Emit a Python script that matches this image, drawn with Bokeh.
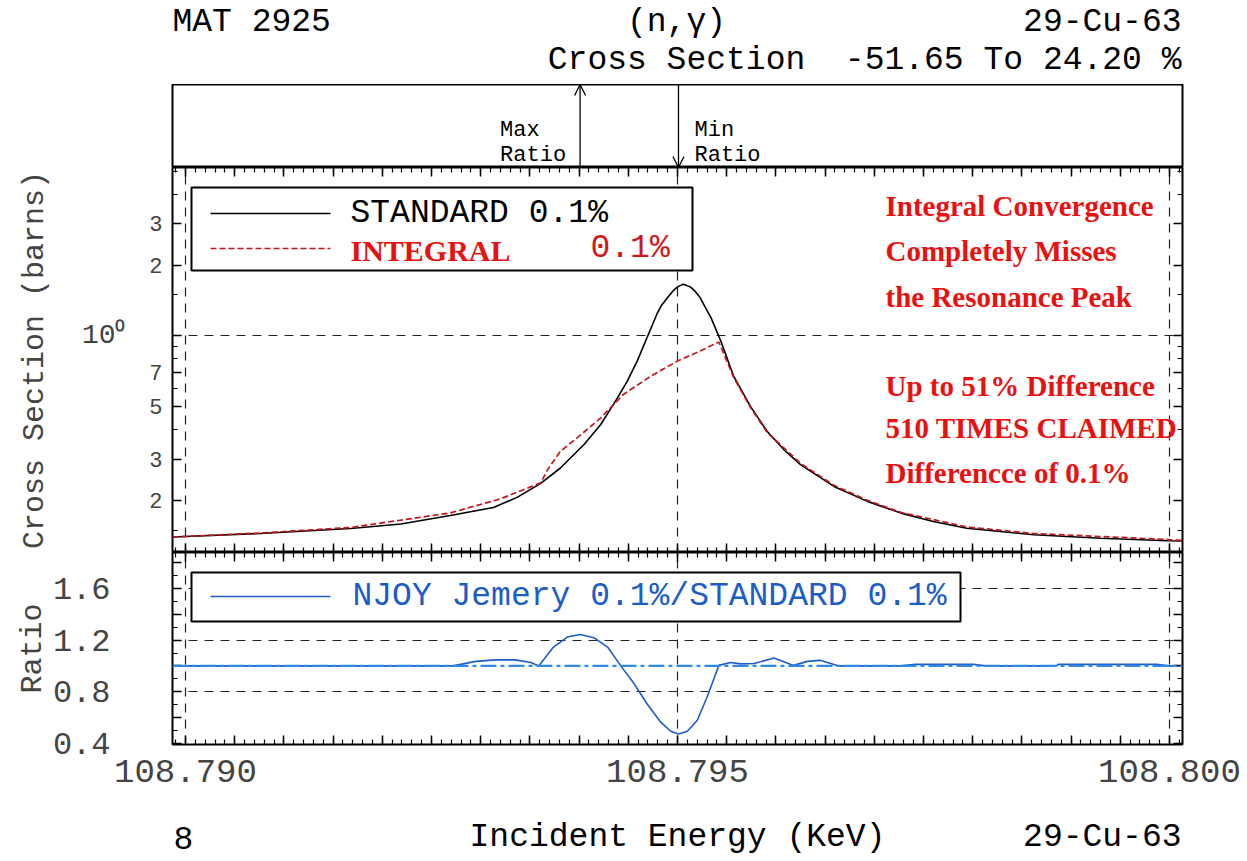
import math
import numpy as np
from bokeh.plotting import figure
from bokeh.layouts import column
from bokeh.models import (Range1d, FixedTicker, LinearAxis, LogAxis, Label, Arrow,
                          OpenHead, BoxAnnotation, Span, Grid, CustomJSTickFormatter)
from bokeh.embed import file_html
from bokeh.resources import INLINE

# ---------------- data ----------------
std_energy = [108.78987, 108.79076, 108.79168, 108.79219, 108.79269, 108.79313, 108.79337,
              108.79361, 108.79381, 108.79405, 108.79422, 108.79439, 108.79449, 108.79459,
              108.79469, 108.79479, 108.79484, 108.79490, 108.79496, 108.79500, 108.79506,
              108.79513, 108.79517, 108.79523, 108.79528, 108.79534, 108.79544, 108.79557,
              108.79574, 108.79591, 108.79608, 108.79625, 108.79659, 108.79693, 108.79727,
              108.79760, 108.79794, 108.79862, 108.79930, 108.79998, 108.80013]
std_xs = [0.1402, 0.1451, 0.1524, 0.1593, 0.1731, 0.1870, 0.2065,
          0.2368, 0.2752, 0.3461, 0.4209, 0.5463, 0.6436, 0.7826,
          0.9835, 1.237, 1.355, 1.455, 1.562, 1.616, 1.660,
          1.616, 1.562, 1.455, 1.328, 1.196, 0.9522, 0.6759,
          0.5036, 0.3942, 0.3295, 0.2844, 0.2299, 0.1986, 0.1771,
          0.1632, 0.1528, 0.1433, 0.1386, 0.1351, 0.1349]

int_energy = [108.78987, 108.79076, 108.79168, 108.79269, 108.79320, 108.79361, 108.79368,
              108.79381, 108.79398, 108.79422, 108.79445, 108.79473, 108.79500, 108.79523,
              108.79542, 108.79557, 108.79574, 108.79591, 108.79625, 108.79659, 108.79693,
              108.79727, 108.79794, 108.79862, 108.79930, 108.79998, 108.80013]
int_xs = [0.1402, 0.1458, 0.1539, 0.1774, 0.2035, 0.2380, 0.2709,
          0.3241, 0.3693, 0.4492, 0.5648, 0.6759, 0.7826, 0.8635,
          0.9429, 0.6690, 0.4987, 0.3904, 0.2881, 0.2323, 0.2005,
          0.1783, 0.1546, 0.1451, 0.1409, 0.1368, 0.1355]

ratio_energy = [108.78987, 108.79272, 108.79295, 108.79315, 108.79335, 108.79351, 108.79359,
                108.79374, 108.79388, 108.79401, 108.79415, 108.79429, 108.79442, 108.79456,
                108.79469, 108.79483, 108.79493, 108.79501, 108.79510, 108.79520, 108.79530,
                108.79537, 108.79542, 108.79554, 108.79564, 108.79578, 108.79598, 108.79618,
                108.79632, 108.79645, 108.79664, 108.79727, 108.79742, 108.79801, 108.79813,
                108.79885, 108.79887, 108.79987, 108.79999, 108.80013]
ratio_value = [1.000, 1.000, 1.035, 1.047, 1.047, 1.027, 1.000,
               1.146, 1.224, 1.243, 1.219, 1.146, 1.004, 0.861,
               0.706, 0.563, 0.493, 0.472, 0.493, 0.576, 0.757,
               0.900, 1.004, 1.026, 1.016, 1.019, 1.061, 1.004,
               1.035, 1.043, 1.000, 1.000, 1.012, 1.012, 1.000,
               1.000, 1.012, 1.012, 1.000, 1.000]

x_label_ticks = [108.790, 108.795, 108.800]
ratio_label_ticks = [0.4, 0.8, 1.2, 1.6]
xs_label_ticks = [0.2, 0.3, 0.5, 0.7, 1.0, 2.0, 3.0]

e_max = ratio_energy[int(np.argmax(ratio_value))]
e_min = ratio_energy[int(np.argmin(ratio_value))]

# ---------------- layout constants ----------------
W = 1247
LB, RB = 172, 65
MONO = "Liberation Mono"
SERIF = "Liberation Serif"
RED = "#ea1010"
BLUE = "#1c5cc8"

xr = Range1d(108.789868, 108.800132)

x_major = [round(108.790 + 0.0005 * i, 4) for i in range(21)]
x_minor = [round(108.7899 + 0.0001 * i, 4) for i in range(104)]


def blankf():
    return CustomJSTickFormatter(code="return '';")


def tick_style(ax, major_in=10, minor_in=5):
    ax.major_tick_in = major_in
    ax.major_tick_out = 0
    ax.minor_tick_in = minor_in
    ax.minor_tick_out = 0
    ax.axis_line_color = None
    ax.major_tick_line_color = "black"
    ax.minor_tick_line_color = "black"
    ax.major_tick_line_width = 1.5
    ax.minor_tick_line_width = 1.2


def blank_axis(cls, ticker, loc, fig, major_in=10, minor_in=5):
    ax = cls(ticker=ticker, formatter=blankf(), major_label_standoff=0)
    tick_style(ax, major_in, minor_in)
    fig.add_layout(ax, loc)
    return ax


def base(fig, outline=True):
    fig.outline_line_color = "black" if outline else None
    fig.outline_line_width = 2
    fig.background_fill_color = "white"
    fig.border_fill_color = "white"
    fig.xgrid.visible = False
    fig.ygrid.visible = False


def lab(fig, text, x, y, size, align="left", color="black", font=MONO, style="normal",
        xu="screen", x_offset=0):
    fig.add_layout(Label(x=x, y=y, x_units=xu, y_units="screen", text=text, x_offset=x_offset,
                         text_font=font, text_font_size=f"{size}px", text_color=color,
                         text_font_style=style, text_align=align, text_baseline="middle"))


def dash_grid(fig, dim, ticks):
    fig.add_layout(Grid(dimension=dim, ticker=FixedTicker(ticks=ticks), grid_line_color="#222222",
                        grid_line_dash="9 7", grid_line_width=1.2))


def common(**kw):
    d = dict(width=W, output_backend="svg", toolbar_location=None, x_axis_location=None,
             y_axis_location=None, min_border_left=LB, min_border_right=RB,
             min_border_top=0, min_border_bottom=0)
    d.update(kw)
    return d


# ---------------- header (frame aligned with the panels: x measured from the frame's left) ----
pH = figure(**common(height=84, x_range=Range1d(0, 1), y_range=Range1d(0, 1)))
base(pH, outline=False)
lab(pH, "MAT 2925", 0, 62, 33)
lab(pH, "(n,γ)", 504, 62, 33, align="center")
lab(pH, "29-Cu-63", 1009, 62, 33, align="right")
lab(pH, "Cross Section\u00a0 -51.65 To 24.20 %", 1009, 24, 33, align="right")

# ---------------- arrow panel ----------------
pA = figure(**common(height=83, x_range=xr, y_range=Range1d(0, 1)))
base(pA)
pA.add_layout(Arrow(end=OpenHead(size=11, line_width=1.3, line_color="black"),
                    x_start=e_max, y_start=0, x_end=e_max, y_end=1,
                    line_color="black", line_width=1.3))
pA.add_layout(Arrow(end=OpenHead(size=11, line_width=1.3, line_color="black"),
                    x_start=e_min, y_start=1, x_end=e_min, y_end=0,
                    line_color="black", line_width=1.3))
lab(pA, "Max", e_max, 37, 22, xu="data", x_offset=-80)
lab(pA, "Ratio", e_max, 12, 22, xu="data", x_offset=-80)
lab(pA, "Min", e_min, 37, 22, xu="data", x_offset=16)
lab(pA, "Ratio", e_min, 12, 22, xu="data", x_offset=16)

# ---------------- main panel ----------------
pB = figure(**common(height=385, x_range=xr, y_range=Range1d(0.1205, 5.19), y_axis_type="log"))
base(pB)
ylog_ticker = FixedTicker(ticks=xs_label_ticks, minor_ticks=[0.15, 0.4, 0.6, 0.8, 0.9, 1.5, 4.0, 5.0])
left = LogAxis(ticker=ylog_ticker, formatter=CustomJSTickFormatter(code="""
    if (Math.abs(tick - 1) < 1e-9) { return ''; }
    const p = Math.pow(10, Math.floor(Math.log10(tick) + 1e-9));
    return String(Math.round(tick / p));"""),
    major_label_standoff=10, major_label_text_font=MONO, major_label_text_font_size="22px")
tick_style(left, 9, 5)
pB.add_layout(left, "left")
left10 = LogAxis(ticker=FixedTicker(ticks=[1.0], minor_ticks=[]),
                 formatter=CustomJSTickFormatter(code="return '10\u2070';"),
                 major_label_standoff=21, major_label_text_font=MONO,
                 major_label_text_font_size="28px",
                 axis_label="Cross Section (barns)", axis_label_standoff=27,
                 axis_label_text_font=MONO, axis_label_text_font_size="30px",
                 axis_label_text_font_style="normal")
tick_style(left10, 0, 0)
pB.add_layout(left10, "left")
blank_axis(LogAxis, ylog_ticker, "right", pB, 9, 5)
xt = FixedTicker(ticks=x_major, minor_ticks=x_minor)
blank_axis(LinearAxis, xt, "below", pB, 9, 5)
blank_axis(LinearAxis, xt, "above", pB, 9, 5)
dash_grid(pB, 0, x_label_ticks)
dash_grid(pB, 1, [1.0])

pB.line(std_energy, std_xs, line_color="black", line_width=1.6)
pB.line(int_energy, int_xs, line_color="#c4141c", line_width=1.7, line_dash="6 3")

# legend
pB.add_layout(BoxAnnotation(left=19, right=520, top=365, bottom=282, left_units="screen",
                            right_units="screen", top_units="screen", bottom_units="screen",
                            fill_color="white", fill_alpha=1.0, line_color="black",
                            line_alpha=1.0, line_width=2))
pB.add_layout(Arrow(end=None, x_start=38, y_start=339, x_end=158, y_end=339, start_units="screen",
                    end_units="screen", line_color="black", line_width=1.6))
pB.add_layout(Arrow(end=None, x_start=38, y_start=304, x_end=158, y_end=304, start_units="screen",
                    end_units="screen", line_color="#c4141c", line_width=1.7, line_dash="6 3"))
lab(pB, "STANDARD 0.1%", 178, 339, 33)
lab(pB, "INTEGRAL", 178, 302, 30, color=RED, font=SERIF, style="bold")
lab(pB, "0.1%", 418, 304, 33, color="#d01818")

for txt, yy in [("Integral Convergence", 347), ("Completely Misses", 302),
                ("the Resonance Peak", 256), ("Up to 51% Difference", 167),
                ("510 TIMES CLAIMED", 125), ("Differencce of 0.1%", 80)]:
    lab(pB, txt, 713, yy, 29, color=RED, font=SERIF, style="bold")

# ---------------- ratio panel ----------------
pC = figure(**common(height=242, x_range=xr, y_range=Range1d(0.39, 1.88), min_border_bottom=50))
base(pC)
rt = FixedTicker(ticks=[0.4, 0.6, 0.8, 1.0, 1.2, 1.4, 1.6, 1.8],
                 minor_ticks=[0.5, 0.7, 0.9, 1.1, 1.3, 1.5, 1.7])
rleft = LinearAxis(ticker=rt, formatter=CustomJSTickFormatter(
    args=dict(labs=ratio_label_ticks),
    code="for (const v of labs) { if (Math.abs(v - tick) < 1e-6) { return tick.toFixed(1); } } return '';"),
    major_label_standoff=62, major_label_text_font=MONO, major_label_text_font_size="32px",
    axis_label="Ratio", axis_label_standoff=0, axis_label_text_font=MONO,
    axis_label_text_font_size="30px", axis_label_text_font_style="normal")
tick_style(rleft, 9, 5)
pC.add_layout(rleft, "left")
blank_axis(LinearAxis, rt, "right", pC, 9, 5)
bottom = LinearAxis(ticker=xt, formatter=CustomJSTickFormatter(
    args=dict(labs=x_label_ticks),
    code="for (const v of labs) { if (Math.abs(v - tick) < 1e-7) { return tick.toFixed(3); } } return '';"),
    major_label_standoff=15, major_label_text_font=MONO, major_label_text_font_size="34px")
tick_style(bottom, 9, 5)
pC.add_layout(bottom, "below")
blank_axis(LinearAxis, xt, "above", pC, 9, 5)
dash_grid(pC, 0, x_label_ticks)
dash_grid(pC, 1, [0.8, 1.2, 1.6])
pC.add_layout(Span(location=1.0, dimension="width", line_color="#2e8ae6", line_width=2.2,
                   line_dash="16 4 4 4"))
pC.line(ratio_energy, ratio_value, line_color=BLUE, line_width=1.6)

pC.add_layout(BoxAnnotation(left=19, right=788, top=172, bottom=123, left_units="screen",
                            right_units="screen", top_units="screen", bottom_units="screen",
                            fill_color="white", fill_alpha=1.0, line_color="black",
                            line_alpha=1.0, line_width=2))
pC.add_layout(Arrow(end=None, x_start=38, y_start=148, x_end=158, y_end=148, start_units="screen",
                    end_units="screen", line_color=BLUE, line_width=1.6))
lab(pC, "NJOY Jemery 0.1%/STANDARD 0.1%", 180, 148, 33, color=BLUE)

# ---------------- footer (frame aligned with the panels) ----------------
pF = figure(**common(height=66, x_range=Range1d(0, 1), y_range=Range1d(0, 1)))
base(pF, outline=False)
lab(pF, "8", 11, 23, 33, align="center")
lab(pF, "Incident Energy (KeV)", 505, 23, 33, align="center")
lab(pF, "29-Cu-63", 1009, 23, 33, align="right")

layout = column(pH, pA, pB, pC, pF, spacing=0)
open("out.html", "w").write(file_html(layout, INLINE))
